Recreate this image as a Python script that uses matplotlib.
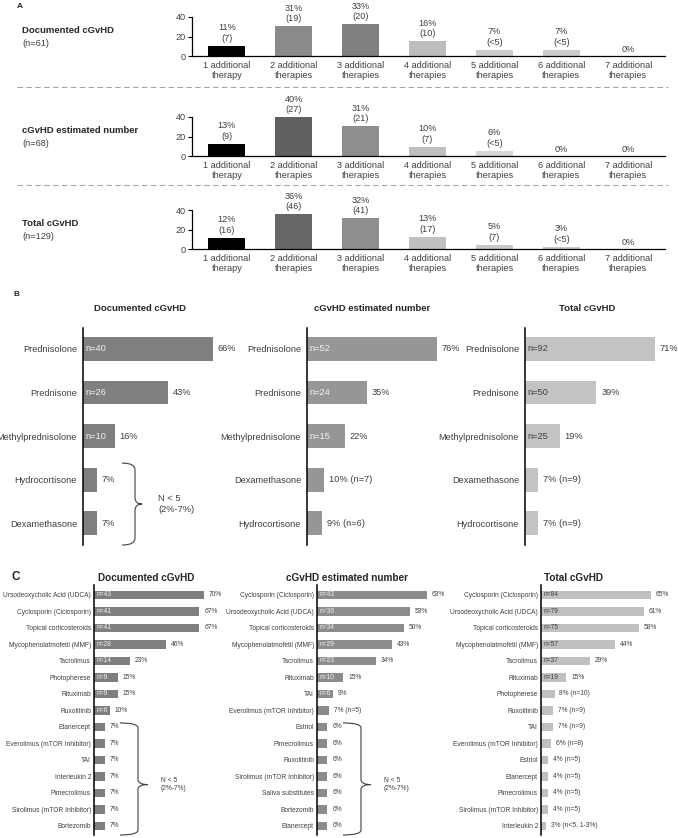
import numpy as np
import matplotlib
matplotlib.use('Agg')
import matplotlib.pyplot as plt
import matplotlib.transforms as mtransforms
from matplotlib.lines import Line2D
from matplotlib.path import Path
from matplotlib.patches import PathPatch

plt.rcParams['font.family'] = ['Liberation Sans', 'DejaVu Sans']

FIG_W, FIG_H = 678, 838
TXT = '#404040'

# ---------------- panel A data ----------------
a_categories = ['1 additional\ntherapy', '2 additional\ntherapies', '3 additional\ntherapies',
                '4 additional\ntherapies', '5 additional\ntherapies', '6 additional\ntherapies',
                '7 additional\ntherapies']
a_titles = ['Documented cGvHD', 'cGvHD estimated number', 'Total cGvHD']
a_sizes = ['(n=61)', '(n=68)', '(n=129)']
a_doc_pct = [11, 31, 33, 16, 7, 7, 0]
a_doc_cnt = ['7', '19', '20', '10', '<5', '<5', '']
a_est_pct = [13, 40, 31, 10, 6, 0, 0]
a_est_cnt = ['9', '27', '21', '7', '<5', '', '']
a_tot_pct = [12, 36, 32, 13, 5, 3, 0]
a_tot_cnt = ['16', '46', '41', '17', '7', '<5', '']

# ---------------- panel B data ----------------
b_titles = ['Documented cGvHD', 'cGvHD estimated number', 'Total cGvHD']
b_doc_names = ['Prednisolone', 'Prednisone', 'Methylprednisolone', 'Hydrocortisone', 'Dexamethasone']
b_doc_pct = [66, 43, 16, 7, 7]
b_doc_nin = ['n=40', 'n=26', 'n=10', '', '']
b_doc_nout = ['', '', '', '', '']
b_est_names = ['Prednisolone', 'Prednisone', 'Methylprednisolone', 'Dexamethasone', 'Hydrocortisone']
b_est_pct = [76, 35, 22, 10, 9]
b_est_nin = ['n=52', 'n=24', 'n=15', '', '']
b_est_nout = ['', '', '', 'n=7', 'n=6']
b_tot_names = ['Prednisolone', 'Prednisone', 'Methylprednisolone', 'Dexamethasone', 'Hydrocortisone']
b_tot_pct = [71, 39, 19, 7, 7]
b_tot_nin = ['n=92', 'n=50', 'n=25', '', '']
b_tot_nout = ['', '', '', 'n=9', 'n=9']

# ---------------- panel C data ----------------
c_doc_names = ['Ursodeoxycholic Acid (UDCA)', 'Cyclosporin (Ciclosporin)', 'Topical corticosteroids',
               'Mycophenolatmofetil (MMF)', 'Tacrolimus', 'Photopherese', 'Rituximab', 'Ruxolitinib',
               'Etanercept', 'Everolimus (mTOR Inhibitor)', 'TAI', 'Interleukin 2', 'Pimecrolimus',
               'Sirolimus (mTOR Inhibitor)', 'Bortezomib']
c_doc_pct = [70, 67, 67, 46, 23, 15, 15, 10, 7, 7, 7, 7, 7, 7, 7]
c_doc_nin = ['n=43', 'n=41', 'n=41', 'n=28', 'n=14', 'n=9', 'n=9', 'n=6', '', '', '', '', '', '', '']
c_doc_nout = [''] * 15
c_est_names = ['Cyclosporin (Ciclosporin)', 'Ursodeoxycholic Acid (UDCA)', 'Topical corticosteroids',
               'Mycophenolatmofetil (MMF)', 'Tacrolimus', 'Rituximab', 'TAI',
               'Everolimus (mTOR Inhibitor)', 'Estriol', 'Pimecrolimus', 'Ruxolitinib',
               'Sirolimus (mTOR Inhibitor)', 'Saliva substitutes', 'Bortezomib', 'Etanercept']
c_est_pct = [63, 53, 50, 43, 34, 15, 9, 7, 6, 6, 6, 6, 6, 6, 6]
c_est_nin = ['n=43', 'n=36', 'n=34', 'n=29', 'n=23', 'n=10', 'n=6', '', '', '', '', '', '', '', '']
c_est_nout = ['', '', '', '', '', '', '', 'n=5', '', '', '', '', '', '', '']
c_tot_names = ['Cyclosporin (Ciclosporin)', 'Ursodeoxycholic Acid (UDCA)', 'Topical corticosteroids',
               'Mycophenolatmofetil (MMF)', 'Tacrolimus', 'Rituximab', 'Photopherese', 'Ruxolitinib',
               'TAI', 'Everolimus (mTOR Inhibitor)', 'Estriol', 'Etanercept', 'Pimecrolimus',
               'Sirolimus (mTOR Inhibitor)', 'Interleukin 2']
c_tot_pct = [65, 61, 58, 44, 29, 15, 8, 7, 7, 6, 4, 4, 4, 4, 3]
c_tot_nin = ['n=84', 'n=79', 'n=75', 'n=57', 'n=37', 'n=19', '', '', '', '', '', '', '', '', '']
c_tot_nout = ['', '', '', '', '', '', 'n=10', 'n=9', 'n=9', 'n=8', 'n=5', 'n=5', 'n=5', 'n=5',
              'n<5, 1-3%']

brace_text = 'N < 5\n(2%-7%)'

fig = plt.figure(figsize=(FIG_W / 100, FIG_H / 100), dpi=100)


def px_axes(left, top, width, height):
    return fig.add_axes([left / FIG_W, 1 - (top + height) / FIG_H, width / FIG_W, height / FIG_H])


def fig_text(x, y, s, **kw):
    fig.text(x / FIG_W, 1 - y / FIG_H, s, **kw)


# ---------------- A ----------------
def a_row(top, title, size, pct, cnt, colors):
    ax = px_axes(192, top, 473, 39.5)
    x = np.arange(len(pct))
    ax.bar(x, pct, width=0.55, color=colors)
    ax.set_xlim(-0.52, 6.55)
    ax.set_ylim(0, 40)
    ax.set_yticks([0, 20, 40])
    ax.set_xticks(x)
    ax.set_xticklabels(a_categories, fontsize=6.6, color=TXT, linespacing=1.15)
    ax.tick_params(axis='x', length=0, pad=3)
    ax.tick_params(axis='y', length=3, width=0.8, pad=1.5, labelsize=6.6, labelcolor=TXT)
    for s in ['top', 'right']:
        ax.spines[s].set_visible(False)
    for s in ['left', 'bottom']:
        ax.spines[s].set_linewidth(0.9)
    ax.spines['left'].set_bounds(0, 40)
    for xi, p, c in zip(x, pct, cnt):
        label = f'{p}%\n({c})' if c else f'{p}%'
        ax.annotate(label, (xi, p), xytext=(0, 2), textcoords='offset points', ha='center',
                    va='bottom', fontsize=6.6, color=TXT, linespacing=1.2, annotation_clip=False)
    fig_text(22, top + 13.5, title, ha='left', va='center', fontsize=6.8, fontweight='bold',
             color='#262626')
    fig_text(22, top + 26.5, size, ha='left', va='center', fontsize=6.6, color=TXT)


a_row(17, a_titles[0], a_sizes[0], a_doc_pct, a_doc_cnt,
      ['#000000', '#8a8a8a', '#7f7f7f', '#bdbdbd', '#cbcbcb', '#cbcbcb', '#cbcbcb'])
a_row(117, a_titles[1], a_sizes[1], a_est_pct, a_est_cnt,
      ['#000000', '#606060', '#8e8e8e', '#bfbfbf', '#d6d6d6', '#d6d6d6', '#d6d6d6'])
a_row(210, a_titles[2], a_sizes[2], a_tot_pct, a_tot_cnt,
      ['#000000', '#666666', '#8e8e8e', '#c0c0c0', '#c8c8c8', '#c8c8c8', '#c8c8c8'])

for yy in [87, 185]:
    fig.add_artist(Line2D([17 / FIG_W, 668 / FIG_W], [1 - yy / FIG_H] * 2, transform=fig.transFigure,
                          color='#a6a6a6', lw=0.8, ls=(0, (5, 3))))


# ---------------- B / C horizontal panels ----------------
def hbar(left, top, width, height, pad_top, pad_bot, names, pct, nin, nout, color, ncolor,
         fs, lpad, bar_h, title, tx, ty, tfs):
    ax = px_axes(left, top, width, height)
    y = np.arange(len(names))
    ax.barh(y, pct, height=bar_h, color=color)
    ax.set_xlim(0, max(pct))
    ax.set_ylim(len(names) - 1 + pad_bot, -pad_top)
    ax.set_yticks(y)
    ax.set_yticklabels(names, fontsize=fs, color=TXT)
    ax.tick_params(axis='y', length=0, pad=lpad)
    ax.set_xticks([])
    for s in ['top', 'right', 'bottom']:
        ax.spines[s].set_visible(False)
    ax.spines['left'].set_linewidth(1.1)
    for yi, p, ni, no in zip(y, pct, nin, nout):
        if ni:
            ax.annotate(ni, (0, yi), xytext=(2, 0), textcoords='offset points', ha='left',
                        va='center', fontsize=fs, color=ncolor)
        side = f'{p}%' + (f' ({no})' if no else '')
        ax.annotate(side, (p, yi), xytext=(3.5, 0), textcoords='offset points', ha='left',
                    va='center', fontsize=fs, color=TXT, annotation_clip=False)
    fig_text(tx, ty, title, ha='center', va='center', fontsize=tfs, fontweight='bold',
             color='#262626')
    return ax


def brace(ax, width_px, first, last, offs, tip_frac, r, fs):
    xh, xv, xt, xtext = [o / width_px for o in offs]
    y0, y1 = first, last
    ym = y0 + tip_frac * (y1 - y0)
    verts = [(xh, y0), (xv, y0), (xv, y0 + r),
             (xv, ym - r),
             (xv, ym), (xt, ym),
             (xv, ym), (xv, ym + r),
             (xv, y1 - r),
             (xv, y1), (xh, y1)]
    codes = [Path.MOVETO, Path.CURVE3, Path.CURVE3,
             Path.LINETO,
             Path.CURVE3, Path.CURVE3,
             Path.CURVE3, Path.CURVE3,
             Path.LINETO,
             Path.CURVE3, Path.CURVE3]
    trans = mtransforms.blended_transform_factory(ax.transAxes, ax.transData)
    ax.add_patch(PathPatch(Path(verts, codes), transform=trans, fill=False, edgecolor=TXT,
                           lw=0.8, clip_on=False))
    ax.text(xtext, ym, brace_text, transform=trans, ha='left', va='center', fontsize=fs,
            color=TXT, linespacing=1.2)


B_FS = 6.7
bx = hbar(83, 328, 130, 217, 0.48, 0.5, b_doc_names, b_doc_pct, b_doc_nin, b_doc_nout,
          '#7f7f7f', '#f2f2f2', B_FS, 4.3, 0.55, b_titles[0], 140, 308, 6.8)
brace(bx, 130, 3 - 0.38, 4 + 0.5, [39, 52, 59, 75], 0.5, 0.15, B_FS)
hbar(307, 328, 130, 217, 0.48, 0.5, b_est_names, b_est_pct, b_est_nin, b_est_nout,
     '#969696', '#f2f2f2', B_FS, 4.3, 0.55, b_titles[1], 372, 308, 6.8)
hbar(525, 328, 130, 217, 0.48, 0.5, b_tot_names, b_tot_pct, b_tot_nin, b_tot_nout,
     '#c3c3c3', TXT, B_FS, 4.3, 0.55, b_titles[2], 587, 308, 6.8)

C_FS = 4.8
cx1 = hbar(94, 585, 110, 250, 0.6, 0.55, c_doc_names, c_doc_pct, c_doc_nin, c_doc_nout,
           '#7f7f7f', '#f2f2f2', C_FS, 2.2, 0.5, b_titles[0], 146, 578, 7.2)
brace(cx1, 110, 8 - 0.24, 14 + 0.55, [26, 44, 54, 67], 0.55, 0.3, C_FS)
cx2 = hbar(317, 585, 110, 250, 0.6, 0.55, c_est_names, c_est_pct, c_est_nin, c_est_nout,
           '#8c8c8c', '#f2f2f2', C_FS, 2.2, 0.5, b_titles[1], 347, 578, 7.2)
brace(cx2, 110, 8 - 0.24, 14 + 0.55, [26, 44, 54, 67], 0.55, 0.3, C_FS)
hbar(541, 585, 110, 250, 0.6, 0.55, c_tot_names, c_tot_pct, c_tot_nin, c_tot_nout,
     '#c0c0c0', TXT, C_FS, 2.2, 0.5, b_titles[2], 573, 578, 7.2)

# panel letters
fig_text(17, 7, 'A', ha='left', va='center', fontsize=6, fontweight='bold', color='#262626')
fig_text(13, 294, 'B', ha='left', va='center', fontsize=6, fontweight='bold', color='#262626')
fig_text(12, 577, 'C', ha='left', va='center', fontsize=8.5, fontweight='bold', color='#262626')

fig.savefig('out.png', dpi=100)
